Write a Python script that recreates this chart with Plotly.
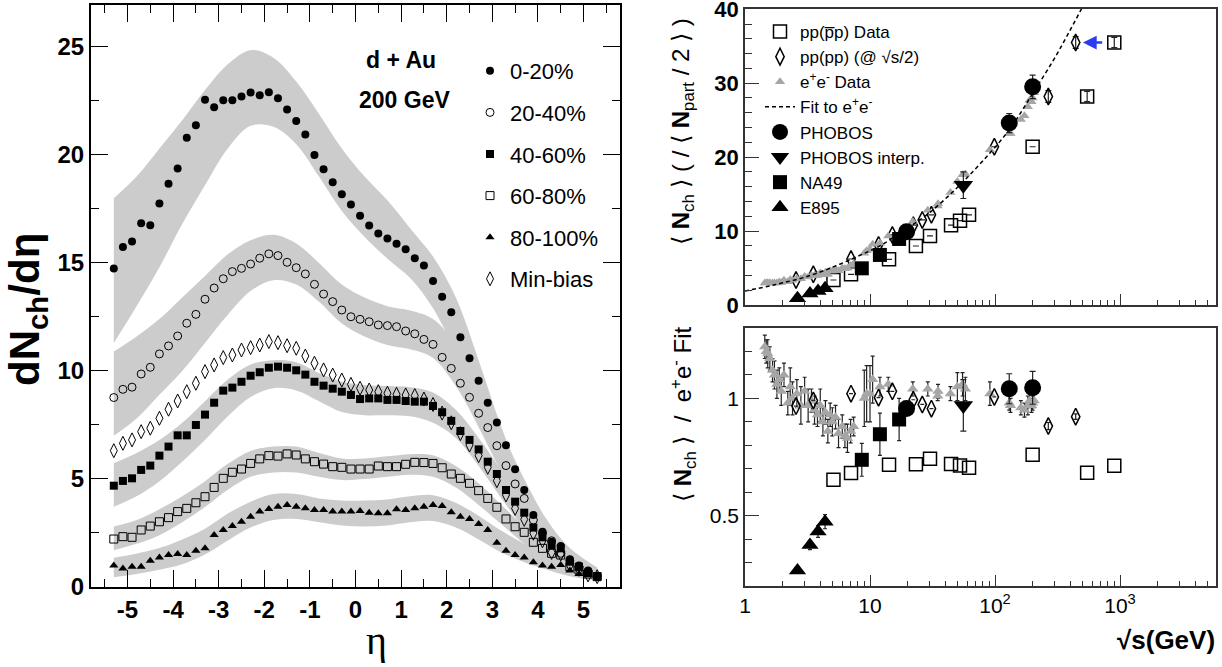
import plotly.graph_objects as go
import numpy as np

W, H = 1222, 667

# ---------------- Left panel data (d+Au, dNch/deta) ----------------
eta = [-5.3, -5.1, -4.9, -4.7, -4.5, -4.3, -4.1, -3.9, -3.7, -3.5, -3.3, -3.1, -2.9, -2.7,
       -2.5, -2.3, -2.1, -1.9, -1.7, -1.5, -1.3, -1.1, -0.9, -0.7, -0.5, -0.3, -0.1,
       0.1, 0.3, 0.5, 0.7, 0.9, 1.1, 1.3, 1.5, 1.7, 1.9, 2.1, 2.3, 2.5, 2.7,
       2.9, 3.1, 3.3, 3.5, 3.7, 3.9, 4.1, 4.3, 4.5, 4.7, 4.9, 5.1, 5.3]

c0_20 = [14.74, 15.74, 15.99, 16.84, 16.74, 17.75, 18.67, 19.37, 20.80, 21.37, 22.55, 22.21, 22.53, 22.53,
         22.70, 22.89, 22.76, 22.90, 22.62, 22.10, 21.57, 20.94, 20.00, 19.34, 18.74, 18.18, 17.70,
         17.19, 16.73, 16.36, 16.13, 15.89, 15.63, 15.22, 14.88, 14.17, 13.44, 12.72, 11.56, 10.59, 9.55,
         8.53, 7.61, 6.56, 5.45, 4.49, 3.33, 2.56, 2.10, 1.90, 1.28, 0.99, 0.76, 0.51]
c20_40 = [8.77, 9.15, 9.25, 9.86, 10.17, 10.79, 11.16, 11.62, 12.21, 12.62, 13.32, 13.84, 14.27, 14.60,
          14.75, 14.95, 15.22, 15.42, 15.34, 15.03, 14.78, 14.49, 14.01, 13.56, 13.21, 12.82, 12.51,
          12.39, 12.28, 12.13, 12.10, 12.05, 11.85, 11.72, 11.46, 11.23, 10.63, 10.12, 9.43, 8.78, 8.04,
          7.38, 6.54, 5.62, 4.77, 4.10, 3.10, 2.50, 2.14, 1.56, 1.22, 0.94, 0.71, 0.51]
c40_60 = [4.69, 4.91, 5.03, 5.42, 5.62, 6.08, 6.50, 7.02, 7.02, 7.50, 7.98, 8.53, 9.09, 9.23,
          9.50, 9.78, 9.94, 10.15, 10.20, 10.15, 10.03, 9.83, 9.50, 9.32, 9.18, 9.04, 8.89,
          8.70, 8.73, 8.73, 8.66, 8.66, 8.61, 8.58, 8.58, 8.38, 8.09, 7.69, 7.22, 6.81, 6.37,
          5.80, 5.23, 4.49, 3.95, 3.44, 2.75, 2.30, 1.94, 1.79, 1.17, 0.94, 0.66, 0.48]
c60_80 = [2.22, 2.33, 2.30, 2.64, 2.82, 3.02, 3.21, 3.49, 3.64, 3.90, 4.18, 4.61, 5.03, 5.31,
          5.46, 5.72, 5.93, 6.08, 6.06, 6.16, 6.11, 5.93, 5.80, 5.69, 5.57, 5.54, 5.46,
          5.46, 5.46, 5.60, 5.57, 5.57, 5.68, 5.77, 5.76, 5.72, 5.52, 5.23, 5.03, 4.80, 4.46,
          4.10, 3.69, 3.15, 2.79, 2.53, 2.07, 1.79, 1.56, 1.48, 0.94, 0.79, 0.60, 0.48]
c80_100 = [0.99, 0.86, 0.94, 0.94, 1.22, 1.36, 1.48, 1.53, 1.48, 1.68, 1.79, 2.41, 2.64, 2.82,
           3.02, 3.25, 3.49, 3.61, 3.72, 3.80, 3.72, 3.64, 3.56, 3.56, 3.49, 3.49, 3.49,
           3.52, 3.44, 3.41, 3.41, 3.60, 3.56, 3.64, 3.72, 3.80, 3.75, 3.46, 3.25, 3.15, 2.92,
           2.64, 2.05, 1.68, 1.48, 1.37, 1.14, 0.99, 0.94, 1.02, 0.76, 0.60, 0.56, 0.48]
minbias = [6.31, 6.65, 6.81, 7.19, 7.35, 7.81, 8.23, 8.61, 9.04, 9.43, 9.97, 10.28, 10.62, 10.74,
           10.97, 11.08, 11.20, 11.36, 11.31, 11.17, 11.05, 10.69, 10.36, 10.05, 9.81, 9.58, 9.38,
           9.20, 9.12, 9.04, 8.97, 8.92, 8.89, 8.86, 8.70, 8.45, 8.05, 7.60, 7.10, 6.57, 6.08,
           5.54, 4.92, 4.26, 3.64, 3.13, 2.49, 2.14, 1.60, 1.53, 1.02, 0.82, 0.56, 0.48]

# systematic bands
eta_band = [-5.3, -4.8, -4.3, -3.8, -3.3, -2.8, -2.3, -1.8, -1.3, -0.8, -0.3,
            0.2, 0.7, 1.2, 1.7, 2.2, 2.7, 3.2, 3.7, 4.2, 4.7, 5.3]
b0_20_hi = [18.0, 19.0, 20.3, 21.6, 23.0, 24.2, 24.85, 24.5, 23.4, 21.9, 20.3,
            19.0, 17.9, 16.6, 15.3, 13.4, 10.5, 7.4, 4.8, 2.9, 1.6, 0.8]
b0_20_lo = [11.3, 13.0, 14.8, 16.8, 18.6, 20.3, 21.35, 21.3, 20.5, 19.0, 17.4,
            16.2, 15.2, 14.3, 12.9, 10.8, 8.2, 5.7, 3.5, 2.0, 1.05, 0.45]
b20_40_hi = [10.9, 11.6, 12.4, 13.4, 14.4, 15.4, 16.05, 16.3, 15.9, 15.0, 14.0,
             13.4, 13.0, 12.8, 12.4, 11.2, 9.3, 7.2, 5.0, 3.1, 1.8, 0.9]
b20_40_lo = [7.0, 7.8, 8.9, 10.0, 11.3, 12.6, 13.7, 14.2, 14.0, 13.2, 12.2,
             11.6, 11.2, 11.0, 10.6, 9.3, 7.4, 5.3, 3.4, 2.0, 1.0, 0.4]
b40_60_hi = [5.73, 6.2, 6.8, 7.6, 8.6, 9.6, 10.3, 10.5, 10.4, 9.9, 9.5,
             9.35, 9.3, 9.25, 9.0, 8.2, 6.9, 5.4, 3.8, 2.4, 1.4, 0.75]
b40_60_lo = [3.72, 4.2, 4.9, 5.8, 6.8, 7.9, 8.8, 9.2, 9.1, 8.6, 8.1,
             7.95, 7.95, 7.9, 7.6, 6.9, 5.6, 4.1, 2.7, 1.6, 0.9, 0.4]
b60_80_hi = [2.8, 3.1, 3.6, 4.2, 4.9, 5.7, 6.3, 6.5, 6.5, 6.2, 5.95,
             5.95, 6.05, 6.15, 6.1, 5.6, 4.8, 3.8, 2.8, 1.9, 1.2, 0.6]
b60_80_lo = [1.7, 2.0, 2.4, 3.0, 3.7, 4.5, 5.1, 5.3, 5.3, 5.1, 4.95,
             5.0, 5.1, 5.2, 5.1, 4.6, 3.8, 2.9, 2.0, 1.3, 0.8, 0.35]
b80_100_hi = [1.35, 1.55, 1.8, 2.2, 2.7, 3.4, 3.95, 4.3, 4.3, 4.1, 4.0,
              4.0, 4.05, 4.2, 4.25, 3.9, 3.3, 2.6, 2.0, 1.45, 1.0, 0.6]
b80_100_lo = [0.45, 0.6, 0.8, 1.05, 1.5, 2.15, 2.75, 3.1, 3.15, 3.0, 2.85,
              2.8, 2.85, 3.0, 3.05, 2.75, 2.2, 1.6, 1.15, 0.8, 0.5, 0.3]

# ---------------- Right panels data ----------------
pp_s = [5.1, 7.05, 14.2, 23.3, 30.2, 44.5, 52.5, 62.0, 200.0, 546.0, 900.0]
pp_n = [3.38, 4.15, 6.18, 7.98, 9.34, 10.8, 11.4, 12.2, 21.4, 28.2, 35.5]
pp_n_err = [0, 0, 0, 0, 0, 0, 0, 0, 0, 0.7, 0.7]
pp_ratio = [0.653, 0.682, 0.717, 0.719, 0.743, 0.72, 0.714, 0.704, 0.76, 0.683, 0.713]

pph_s = [2.56, 3.52, 7.05, 11.7, 15.1, 22.2, 26.2, 31.0, 98.8, 267.0, 442.0]
pph_n = [3.38, 4.15, 6.22, 8.12, 9.47, 10.8, 11.5, 12.2, 21.4, 28.2, 35.5]
pph_n_err = [0, 0, 0, 0, 0, 0, 0, 0, 0, 0.8, 0.8]
pph_ratio = [0.967, 0.991, 1.02, 1.003, 1.03, 0.994, 0.974, 0.956, 1.006, 0.882, 0.922]
pph_ratio_err = [0, 0, 0, 0, 0, 0, 0, 0, 0, 0.015, 0.012]

ee_s = [1.44, 1.48, 1.52, 1.58, 1.66, 1.72, 1.80, 1.88, 1.95, 2.05,
        2.2, 2.3, 2.4, 2.6, 2.8, 3.0, 3.2, 3.4, 3.6, 3.8,
        4.0, 4.2, 4.4, 4.6, 4.8, 5.0, 5.3, 5.6, 6.0, 6.3,
        6.6, 7.0, 7.4, 9.0, 9.4, 10.0, 10.5, 12.0, 14.0, 22.0,
        29.0, 34.8, 35.0, 44.0, 50.0, 55.0, 58.0, 91.0, 130.0, 133.0,
        161.0, 172.0, 183.0, 189.0, 196.0, 200.0, 206.0]
ee_n = [2.98, 2.98, 3.0, 3.02, 2.98, 2.99, 2.97, 3.11, 3.04, 3.36,
        3.14, 3.43, 3.35, 3.57, 3.54, 3.86, 3.78, 4.01, 3.99, 4.0,
        4.32, 4.1, 4.42, 4.13, 4.6, 4.59, 4.83, 4.63, 5.02, 4.91,
        4.98, 5.33, 5.59, 7.0, 7.34, 7.55, 8.2, 8.4, 9.33, 11.3,
        12.8, 13.4, 13.7, 15.2, 16.7, 17.6, 17.7, 21.0, 23.2, 23.2,
        25.1, 25.6, 26.8, 27.7, 27.5, 28.0, 28.7]
ee_ratio = [1.22, 1.20, 1.19, 1.17, 1.12, 1.10, 1.06, 1.08, 1.03, 1.10,
            0.98, 1.05, 1.00, 1.02, 0.97, 1.03, 0.97, 0.99, 0.95, 0.93,
            0.97, 0.90, 0.94, 0.86, 0.93, 0.90, 0.92, 0.85, 0.88, 0.84,
            0.83, 0.86, 0.88, 1.00, 1.02, 1.02, 1.08, 1.05, 1.06, 1.04,
            1.04, 1.01, 1.03, 1.02, 1.05, 1.06, 1.04, 1.02, 0.98, 0.97,
            0.96, 0.95, 0.97, 0.99, 0.97, 0.98, 0.99]
ee_ratio_err = [0.05, 0.05, 0.06, 0.05, 0.05, 0.06, 0.06, 0.05, 0.06, 0.05,
                0.05, 0.08, 0.07, 0.06, 0.08, 0.06, 0.07, 0.05, 0.06, 0.05,
                0.07, 0.06, 0.05, 0.05, 0.05, 0.06, 0.05, 0.06, 0.05, 0.05,
                0.06, 0.05, 0.04, 0.12, 0.12, 0.12, 0.10, 0.04, 0.03, 0.03,
                0.03, 0.02, 0.03, 0.03, 0.06, 0.05, 0.05, 0.05, 0.03, 0.03,
                0.03, 0.03, 0.04, 0.03, 0.03, 0.03, 0.03]

fit_s = [1, 1.5, 2, 3, 5, 8, 12, 20, 30, 50, 80, 130, 200, 300, 400, 490, 520]
fit_n = [1.9, 2.5, 3.0, 3.75, 5.1, 6.6, 8.0, 10.4, 12.5, 15.9, 19.5, 23.7, 28.6, 33.4, 37.2, 40.0, 40.9]

ph_s = [19.6, 130.0, 200.0]
ph_n = [9.9, 24.6, 29.5]
ph_n_err = [0.6, 1.3, 1.6]
ph_ratio = [0.957, 1.041, 1.045]
ph_ratio_err = [0.03, 0.064, 0.07]

pi_s = [55.8]
pi_n = [16.2]
pi_n_err = [1.8]
pi_ratio = [0.97]
pi_ratio_err = [0.11]

na_s = [8.6, 12.0, 17.1]
na_n = [4.96, 6.77, 8.93]
na_ratio = [0.738, 0.847, 0.91]
na_ratio_err = [0.07, 0.09, 0.09]

e895_s = [2.63, 3.31, 3.84, 4.37]
e895_n = [0.9, 1.55, 1.9, 2.25]
e895_ratio = [0.266, 0.375, 0.432, 0.474]
e895_ratio_err = [0.0, 0.02, 0.025, 0.03]

# ---------------- Figure ----------------
FONT = "Liberation Sans, Arial, Helvetica, sans-serif"
BAND = "#cccccc"
GREY = "#a6a6a6"
ERRC = "#222222"

fig = go.Figure()

bands = [(b0_20_lo, b0_20_hi), (b20_40_lo, b20_40_hi), (b40_60_lo, b40_60_hi),
         (b60_80_lo, b60_80_hi), (b80_100_lo, b80_100_hi)]
for lo, hi in bands:
    fig.add_trace(go.Scatter(x=eta_band, y=lo, mode="lines", line=dict(width=0, shape="spline", smoothing=1.0),
                             showlegend=False, hoverinfo="skip", xaxis="x", yaxis="y"))
    fig.add_trace(go.Scatter(x=eta_band, y=hi, mode="lines", line=dict(width=0, shape="spline", smoothing=1.0),
                             fill="tonexty", fillcolor=BAND, showlegend=False, hoverinfo="skip",
                             xaxis="x", yaxis="y"))

left_series = [
    ("0-20%", c0_20, dict(symbol="circle", size=8, color="black")),
    ("20-40%", c20_40, dict(symbol="circle-open", size=8, color="black", line=dict(width=1))),
    ("40-60%", c40_60, dict(symbol="square", size=8, color="black")),
    ("60-80%", c60_80, dict(symbol="square-open", size=8, color="black", line=dict(width=1))),
    ("80-100%", c80_100, dict(symbol="triangle-up", size=8, color="black")),
    ("Min-bias", minbias, dict(symbol="diamond-tall-open", size=10, color="black", line=dict(width=1))),
]
for i, (name, vals, mk) in enumerate(left_series):
    fig.add_trace(go.Scatter(x=eta, y=vals, mode="markers", marker=mk, name=name,
                             legend="legend", legendgroup=name, xaxis="x", yaxis="y"))

# top right panel
fig.add_trace(go.Scatter(x=pp_s, y=pp_n, mode="markers", name="pp(p\u0305p) Data",
                         marker=dict(symbol="square-open", size=13, color="black", line=dict(width=1.5)),
                         error_y=dict(type="data", array=pp_n_err, color=ERRC, thickness=1.2, width=3),
                         legend="legend2", xaxis="x2", yaxis="y2"))
fig.add_trace(go.Scatter(x=pph_s, y=pph_n, mode="markers", name="pp(pp) (@ \u221As/2)",
                         marker=dict(symbol="diamond-tall-open", size=12, color="black", line=dict(width=1.5)),
                         error_y=dict(type="data", array=pph_n_err, color=ERRC, thickness=1.2, width=3),
                         legend="legend2", xaxis="x2", yaxis="y2"))
fig.add_trace(go.Scatter(x=ee_s, y=ee_n, mode="markers", name="e<sup>+</sup>e<sup>-</sup> Data",
                         marker=dict(symbol="triangle-up", size=9, color=GREY),
                         legend="legend2", xaxis="x2", yaxis="y2"))
fig.add_trace(go.Scatter(x=fit_s, y=fit_n, mode="lines", name="Fit to e<sup>+</sup>e<sup>-</sup>",
                         line=dict(color="black", width=1.5, dash="4px,3px", shape="spline"),
                         legend="legend2", xaxis="x2", yaxis="y2"))
fig.add_trace(go.Scatter(x=ph_s, y=ph_n, mode="markers", name="PHOBOS",
                         marker=dict(symbol="circle", size=17, color="black"),
                         error_y=dict(type="data", array=ph_n_err, color=ERRC, thickness=1.2, width=3),
                         legend="legend2", xaxis="x2", yaxis="y2"))
fig.add_trace(go.Scatter(x=pi_s, y=pi_n, mode="markers", name="PHOBOS interp.",
                         marker=dict(symbol="triangle-down", size=17, color="black"),
                         error_y=dict(type="data", array=pi_n_err, color=ERRC, thickness=1.2, width=3),
                         legend="legend2", xaxis="x2", yaxis="y2"))
fig.add_trace(go.Scatter(x=na_s, y=na_n, mode="markers", name="NA49",
                         marker=dict(symbol="square", size=14, color="black"),
                         legend="legend2", xaxis="x2", yaxis="y2"))
fig.add_trace(go.Scatter(x=e895_s, y=e895_n, mode="markers", name="E895",
                         marker=dict(symbol="triangle-up", size=15, color="black"),
                         legend="legend2", xaxis="x2", yaxis="y2"))

# bottom right panel (ratios)
fig.add_trace(go.Scatter(x=ee_s, y=ee_ratio, mode="markers", showlegend=False,
                         marker=dict(symbol="triangle-up", size=10, color=GREY),
                         error_y=dict(type="data", array=ee_ratio_err, color=ERRC, thickness=1.2, width=2),
                         xaxis="x3", yaxis="y3"))
fig.add_trace(go.Scatter(x=pph_s, y=pph_ratio, mode="markers", showlegend=False,
                         marker=dict(symbol="diamond-tall-open", size=12, color="black", line=dict(width=1.5)),
                         error_y=dict(type="data", array=pph_ratio_err, color=ERRC, thickness=1.2, width=2),
                         xaxis="x3", yaxis="y3"))
fig.add_trace(go.Scatter(x=pp_s, y=pp_ratio, mode="markers", showlegend=False,
                         marker=dict(symbol="square-open", size=13, color="black", line=dict(width=1.5)),
                         xaxis="x3", yaxis="y3"))
fig.add_trace(go.Scatter(x=na_s, y=na_ratio, mode="markers", showlegend=False,
                         marker=dict(symbol="square", size=14, color="black"),
                         error_y=dict(type="data", array=na_ratio_err, color=ERRC, thickness=1.2, width=2),
                         xaxis="x3", yaxis="y3"))
fig.add_trace(go.Scatter(x=ph_s, y=ph_ratio, mode="markers", showlegend=False,
                         marker=dict(symbol="circle", size=17, color="black"),
                         error_y=dict(type="data", array=ph_ratio_err, color=ERRC, thickness=1.2, width=3),
                         xaxis="x3", yaxis="y3"))
fig.add_trace(go.Scatter(x=pi_s, y=pi_ratio, mode="markers", showlegend=False,
                         marker=dict(symbol="triangle-down", size=17, color="black"),
                         error_y=dict(type="data", array=pi_ratio_err, color=ERRC, thickness=1.2, width=3),
                         xaxis="x3", yaxis="y3"))
fig.add_trace(go.Scatter(x=e895_s, y=e895_ratio, mode="markers", showlegend=False,
                         marker=dict(symbol="triangle-up", size=15, color="black"),
                         error_y=dict(type="data", array=e895_ratio_err, color=ERRC, thickness=1.2, width=2),
                         xaxis="x3", yaxis="y3"))

# ---------------- Axes ----------------
def fx(p):
    return p / W

def fy(p):
    return 1 - p / H

left_x = dict(domain=[fx(91), fx(620)], range=[-5.8, 5.8], anchor="y", automargin=False,
              tickvals=[-5, -4, -3, -2, -1, 0, 1, 2, 3, 4, 5],
              ticktext=["-5", "-4", "-3", "-2", "-1", "0", "1", "2", "3", "4", "5"],
              ticks="inside", ticklen=17, tickwidth=1.3, tickcolor="black",
              minor=dict(dtick=0.5, tick0=0, ticks="inside", ticklen=8, tickwidth=1.3, tickcolor="black"),
              showline=True, linewidth=2.2, linecolor="black", mirror="allticks",
              showgrid=False, zeroline=False,
              tickfont=dict(family=FONT, size=24, color="black", weight="bold"))
left_y = dict(domain=[fy(587), fy(5)], range=[0, 26.94], anchor="x", automargin=False,
              tickvals=[0, 5, 10, 15, 20, 25],
              ticks="inside", ticklen=17, tickwidth=1.3, tickcolor="black",
              minor=dict(dtick=2.5, tick0=0, ticks="inside", ticklen=8, tickwidth=1.3, tickcolor="black"),
              showline=True, linewidth=2.2, linecolor="black", mirror="allticks",
              showgrid=False, zeroline=False,
              tickfont=dict(family=FONT, size=24, color="black", weight="bold"))

log_minor = [2, 3, 4, 5, 6, 7, 8, 9, 20, 30, 40, 50, 60, 70, 80, 90,
             200, 300, 400, 500, 600, 700, 800, 900, 2000, 3000, 4000, 5000]
FRAME = "#333333"
right_x_common = dict(type="log", range=[0, 3.768], tickvals=[1, 10, 100, 1000], automargin=False,
                      ticks="inside", ticklen=11, tickwidth=1.2, tickcolor=FRAME,
                      minor=dict(tickmode="array", tickvals=log_minor, ticks="inside", ticklen=5,
                                 tickwidth=1.2, tickcolor=FRAME),
                      showline=True, linewidth=1.6, linecolor=FRAME, mirror=True,
                      showgrid=False, zeroline=False, domain=[fx(745), fx(1216)])
x2 = dict(right_x_common, anchor="y2", showticklabels=False, matches="x3")
x3 = dict(right_x_common, anchor="y3", ticktext=["1", "10", "10<sup>2</sup>", "10<sup>3</sup>"],
          tickfont=dict(family=FONT, size=21, color="black"))
y2 = dict(domain=[fy(305), fy(9)], range=[0, 40.03], anchor="x2", tickvals=[0, 10, 20, 30, 40],
          automargin=False, ticklabeloverflow="allow",
          ticks="inside", ticklen=14, tickwidth=1.2, tickcolor=FRAME,
          minor=dict(dtick=2, tick0=0, ticks="inside", ticklen=7, tickwidth=1.2, tickcolor=FRAME),
          showline=True, linewidth=1.6, linecolor=FRAME, mirror=True, showgrid=False, zeroline=False,
          tickfont=dict(family=FONT, size=22, color="black", weight="bold"))
y3 = dict(domain=[fy(586), fy(328)], range=[0.2, 1.3], anchor="x3", tickvals=[0.5, 1],
          ticktext=["0.5", "1"], automargin=False,
          ticks="inside", ticklen=14, tickwidth=1.2, tickcolor=FRAME,
          minor=dict(dtick=0.1, tick0=0, ticks="inside", ticklen=7, tickwidth=1.2, tickcolor=FRAME),
          showline=True, linewidth=1.6, linecolor=FRAME, mirror=True, showgrid=False, zeroline=False,
          tickfont=dict(family=FONT, size=21, color="black"))

def ann(text, x, y, size, angle=0, family=FONT, xanchor="center"):
    return dict(text=text, x=fx(x), y=fy(y), xref="paper", yref="paper", textangle=angle,
                showarrow=False, xanchor=xanchor, yanchor="middle",
                font=dict(family=family, size=size, color="black"))

annotations = [
    ann("<b>dN<sub>ch</sub>/d\u03b7</b>", 27, 310, 42, angle=-90),
    ann("\u03b7", 376, 640, 40, family="Liberation Serif, DejaVu Serif, serif"),
    ann("<b>d + Au</b>", 401, 60, 23),
    ann("<b>200 GeV</b>", 404, 100, 23),
    ann("\u27e8 <b>N</b><sub>ch</sub> \u27e9 ( / \u27e8 <b>N</b><sub>part</sub> / 2 \u27e9 )",
        682, 132, 24, angle=-90),
    ann("\u27e8 <b>N</b><sub>ch</sub> \u27e9  /  e<sup>+</sup>e<sup>-</sup> Fit", 683, 414, 24, angle=-90),
    ann("<b>\u221As(GeV)</b>", 1217, 640, 26, xanchor="right"),
    # blue arrow pointing at the sqrt(s)/2 point
    dict(x=np.log10(505), y=35.5, ax=np.log10(740), ay=35.5, xref="x2", yref="y2",
         axref="x2", ayref="y2", text="", showarrow=True, arrowhead=2, arrowsize=1.1,
         arrowwidth=2.5, arrowcolor="#2a3cf0"),
]

fig.update_layout(
    template="none",
    width=W, height=H, autosize=False,
    margin=dict(l=0, r=0, t=0, b=0, pad=0),
    paper_bgcolor="white", plot_bgcolor="white",
    font=dict(family=FONT, color="black"),
    xaxis=left_x, yaxis=left_y, xaxis2=x2, yaxis2=y2, xaxis3=x3, yaxis3=y3,
    annotations=annotations,
    legend=dict(x=fx(470), y=fy(50), xanchor="left", yanchor="top", bgcolor="rgba(0,0,0,0)",
                font=dict(family=FONT, size=22, color="black"), tracegroupgap=10,
                itemsizing="trace", itemwidth=30),
    legend2=dict(x=fx(760), y=fy(14), xanchor="left", yanchor="top", bgcolor="rgba(0,0,0,0)",
                 font=dict(family=FONT, size=17, color="black"), tracegroupgap=0,
                 itemsizing="trace", itemwidth=30),
    showlegend=True,
)

fig.write_html("out.html", config={"displayModeBar": False},
               post_script="document.body.style.margin='0';document.body.style.overflow='hidden';")
